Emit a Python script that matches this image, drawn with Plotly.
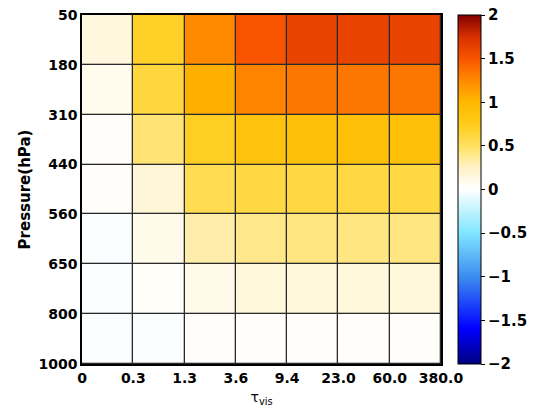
import plotly.graph_objects as go

tau_labels = ["0", "0.3", "1.3", "3.6", "9.4", "23.0", "60.0", "380.0"]
pressure_labels = ["50", "180", "310", "440", "560", "650", "800", "1000"]

# rows: top (50-180 hPa) to bottom (800-1000 hPa); columns: tau bins left to right
z_values = [
    [0.15, 0.70, 1.25, 1.50, 1.62, 1.62, 1.62],
    [0.08, 0.62, 1.05, 1.28, 1.34, 1.34, 1.34],
    [0.02, 0.45, 0.72, 0.86, 0.90, 0.90, 0.90],
    [0.02, 0.18, 0.55, 0.60, 0.60, 0.60, 0.60],
    [-0.02, 0.10, 0.32, 0.40, 0.42, 0.42, 0.42],
    [-0.02, 0.03, 0.10, 0.17, 0.17, 0.17, 0.17],
    [-0.02, -0.02, 0.02, 0.02, 0.02, 0.02, 0.02],
]

colorscale = [
    [0.0, "#00007F"],
    [0.1, "#0000FF"],
    [0.25, "#3C8CF0"],
    [0.375, "#80E6FF"],
    [0.5, "#FFFFFF"],
    [0.5625, "#FFF3C8"],
    [0.625, "#FFE060"],
    [0.6875, "#FFCC1A"],
    [0.75, "#FFB800"],
    [0.8125, "#FF8A00"],
    [0.875, "#F85400"],
    [0.9375, "#D83000"],
    [1.0, "#800000"],
]

ncol = len(tau_labels) - 1
nrow = len(pressure_labels) - 1
xc = [i + 0.5 for i in range(ncol)]
yc = [j + 0.5 for j in range(nrow)]

font_fam = "DejaVu Sans"

fig = go.Figure(go.Heatmap(
    z=z_values, x=xc, y=yc,
    zmin=-2, zmax=2, colorscale=colorscale,
    xgap=1.3, ygap=1.3,
    colorbar=dict(
        x=1.047, xanchor="left", y=0.5, yanchor="middle", len=1.0, lenmode="fraction",
        thickness=23, thicknessmode="pixels",
        outlinewidth=1, outlinecolor="black",
        tickvals=[-2, -1.5, -1, -0.5, 0, 0.5, 1, 1.5, 2],
        ticktext=["\u22122", "\u22121.5", "\u22121", "\u22120.5", "0", "0.5", "1", "1.5", "2"],
        ticks="outside", ticklen=4, tickcolor="black",
        tickfont=dict(family=font_fam, size=15, color="black", weight="bold"),
        xpad=0, ypad=0,
    ),
    hoverinfo="skip",
))

fig.update_layout(
    width=536, height=419,
    margin=dict(l=82, r=95, t=15, b=55, autoexpand=False),
    paper_bgcolor="white", plot_bgcolor="#2a2a2a",
    xaxis=dict(
        range=[0, ncol], tickvals=list(range(ncol + 1)), ticktext=tau_labels,
        showgrid=False,
        showline=True, linecolor="black", linewidth=1.5, mirror=True,
        ticks="", zeroline=False,
        tickfont=dict(family=font_fam, size=14, color="black", weight="bold"),
        title=dict(text="\u03c4<sub>vis</sub>", font=dict(family=font_fam, size=14, color="black"), standoff=8),
    ),
    yaxis=dict(
        range=[nrow, 0], tickvals=list(range(nrow + 1)), ticktext=pressure_labels,
        showgrid=False,
        showline=True, linecolor="black", linewidth=1.5, mirror=True,
        ticks="", zeroline=False,
        tickfont=dict(family=font_fam, size=14, color="black", weight="bold"),
        title=dict(text="Pressure(hPa)", font=dict(family=font_fam, size=15, color="black", weight="bold"), standoff=4),
    ),
)

fig.write_html("out.html")
